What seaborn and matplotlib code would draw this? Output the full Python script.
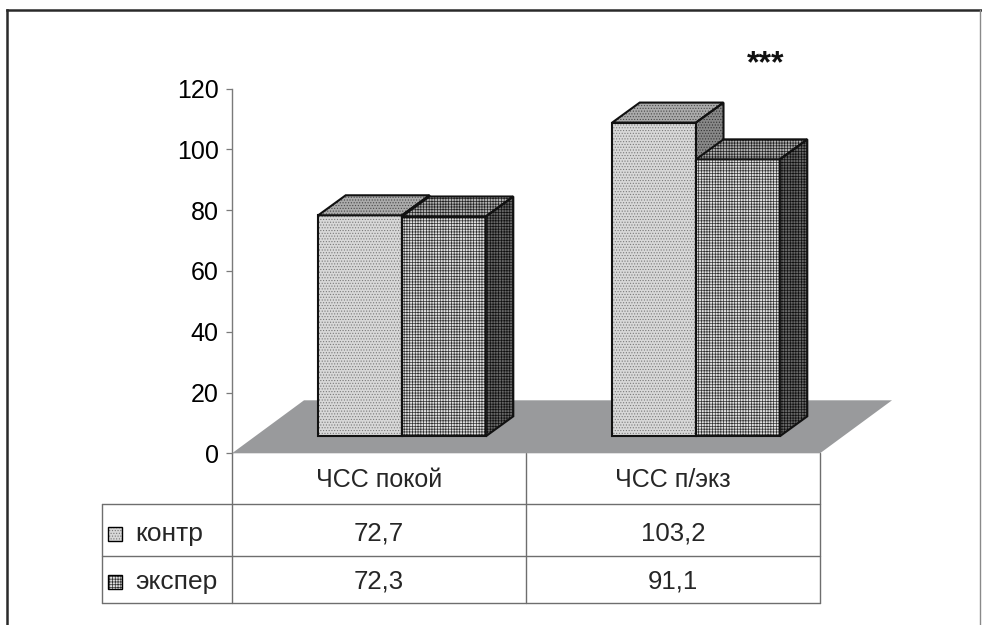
import numpy as np
import pandas as pd
import matplotlib
matplotlib.use("Agg")
import matplotlib.pyplot as plt
import seaborn as sns
from matplotlib.patches import Polygon, Rectangle
from matplotlib.transforms import IdentityTransform

# ---- data ----
categories = ["ЧСС покой", "ЧСС п/экз"]
series_names = ["контр", "экспер"]
control_values = [72.7, 103.2]
exper_values = [72.3, 91.1]
y_ticks = [0, 20, 40, 60, 80, 100, 120]
significance_mark = "***"

sns.set_theme(style="white")
plt.rcParams["font.family"] = ["Liberation Sans", "DejaVu Sans"]
plt.rcParams["hatch.linewidth"] = 0.5

W, H = 982, 625
fig = plt.figure(figsize=(W / 100, H / 100), dpi=100)
fig.patch.set_facecolor("white")


def fig_box(x0, y_top, x1, y_bot):
    """Pixel box (origin top-left) -> figure fraction rect."""
    return [x0 / W, 1 - y_bot / H, (x1 - x0) / W, (y_bot - y_top) / H]


# face styles: base colour, hatch texture, hatch colour
styles = {
    "контр": {
        "front": ("#d8d8d8", "......", "#7a7a7a"),
        "top": ("#ababab", "......", "#4a4a4a"),
        "side": ("#888888", "......", "#333333"),
    },
    "экспер": {
        "front": ("#e0e0e0", "++++++", "#303030"),
        "top": ("#b0b0b0", "++++++", "#222222"),
        "side": ("#666666", "++++++", "#111111"),
    },
}

# overlay for the frame and the data table (pixel coordinates)
axt = fig.add_axes([0, 0, 1, 1])
axt.set_xlim(0, W)
axt.set_ylim(H, 0)
axt.axis("off")
axt.set_facecolor("none")

# value-axis plane and the front plane of the columns
AX_LEFT, AX_RIGHT = 232, 820
ZERO_Y, TOP_Y = 453.3, 88.5
FRONT_DX, FRONT_DY = 23, 17
BAR_DX, BAR_DY = 27.5, 20
FLOOR_DX, FLOOR_DY = 72, 53

ax0 = fig.add_axes(fig_box(AX_LEFT, TOP_Y, AX_RIGHT, ZERO_Y))
ax1 = fig.add_axes(fig_box(AX_LEFT + FRONT_DX, TOP_Y - FRONT_DY,
                           AX_RIGHT + FRONT_DX, ZERO_Y - FRONT_DY))

for ax in (ax0, ax1):
    ax.set_facecolor("none")

ax0.set_xlim(-0.5, 1.5)
ax0.set_ylim(0, 120)
for s in ("top", "right", "bottom"):
    ax0.spines[s].set_visible(False)
ax0.spines["left"].set_color("#7a7a7a")
ax0.spines["left"].set_linewidth(1.0)
ax0.set_xticks([])
ax0.set_yticks(y_ticks)
ax0.set_yticklabels([str(t) for t in y_ticks])
ax0.tick_params(axis="y", left=True, direction="out", length=4.5, width=0.9,
                color="#7a7a7a", pad=5, labelsize=18, labelcolor="black")

# floor of the 3-D scene
f0 = ax0.transData.transform((-0.5, 0))
f1 = ax0.transData.transform((1.5, 0))
floor = [f0, f1, f1 + (FLOOR_DX, FLOOR_DY), f0 + (FLOOR_DX, FLOOR_DY)]
ax0.add_patch(Polygon(floor, closed=True, facecolor="#999a9c", edgecolor="none",
                      transform=IdentityTransform(), clip_on=False, zorder=0.5))

# ---- columns ----
records = []
for name, vals in zip(series_names, [control_values, exper_values]):
    for cat, v in zip(categories, vals):
        records.append((cat, name, v))
df = pd.DataFrame(records, columns=["cat", "series", "value"])

palette = {n: styles[n]["front"][0] for n in series_names}
sns.barplot(data=df, x="cat", y="value", hue="series", order=categories,
            hue_order=series_names, palette=palette, width=0.57, dodge=True,
            saturation=1, errorbar=None, legend=False, linewidth=0,
            edgecolor="none", ax=ax1)
ax1.set_xlim(-0.5, 1.5)
ax1.set_ylim(0, 120)
ax1.axis("off")


def add_face(ax, verts, style, z):
    base, hatch, hcolor = style
    ax.add_patch(Polygon(verts, closed=True, facecolor=base, edgecolor="none",
                         linewidth=0, transform=IdentityTransform(),
                         clip_on=False, zorder=z))
    ax.add_patch(Polygon(verts, closed=True, fill=False, hatch=hatch,
                         edgecolor=hcolor, linewidth=0,
                         transform=IdentityTransform(), clip_on=False,
                         zorder=z + 0.1))
    ax.add_patch(Polygon(verts, closed=True, fill=False, edgecolor="#111111",
                         linewidth=1.5, joinstyle="miter",
                         transform=IdentityTransform(), clip_on=False,
                         zorder=z + 0.2))


bars = sorted([p for p in ax1.patches if isinstance(p, Rectangle)],
              key=lambda p: p.get_x())
depth = np.array([BAR_DX, BAR_DY])
T = ax1.transData.transform
for i, p in enumerate(bars):
    name = series_names[i % 2]
    st = styles[name]
    x0, w, h = p.get_x(), p.get_width(), p.get_height()
    bl, br = T((x0, 0)), T((x0 + w, 0))
    tl, tr = T((x0, h)), T((x0 + w, h))
    z = 2 + i * 2
    p.set_zorder(z)
    add_face(ax1, [bl, br, tr, tl], st["front"], z)
    add_face(ax1, [tl, tr, tr + depth, tl + depth], st["top"], z + 0.5)
    add_face(ax1, [br, tr, tr + depth, br + depth], st["side"], z + 0.5)

# significance mark over the second pair
tall = bars[2]
x_mark = bars[3].get_x() + bars[3].get_width() / 2
ax1.annotate(significance_mark, xy=(x_mark, tall.get_height()),
             xytext=(BAR_DX, 50), textcoords="offset pixels",
             ha="center", va="baseline", fontsize=23, fontweight="bold",
             color="#111111", annotation_clip=False)

# ---- data table ----
col_x = [ax0.transData.transform((x, 0))[0] for x in (-0.5, 0.5, 1.5)]
LABEL_LEFT = 102
row_lines = [504, 556, 603]
line_kw = dict(color="#6e6e6e", linewidth=1.0)
for x in col_x:
    axt.plot([x, x], [ZERO_Y, row_lines[-1]], **line_kw)
axt.plot([LABEL_LEFT, LABEL_LEFT], [row_lines[0], row_lines[-1]], **line_kw)
for y in row_lines:
    axt.plot([LABEL_LEFT, col_x[-1]], [y, y], **line_kw)

centers = [(col_x[0] + col_x[1]) / 2, (col_x[1] + col_x[2]) / 2]
for cx, cat in zip(centers, categories):
    axt.text(cx, 487, cat, ha="center", va="baseline", fontsize=18)

row_base = [540, 588]
for rb, name, vals in zip(row_base, series_names, [control_values, exper_values]):
    base, hatch, hcolor = styles[name]["front"]
    axt.add_patch(Rectangle((108, rb - 13.5), 14, 14, facecolor=base,
                            edgecolor="none", linewidth=0))
    axt.add_patch(Rectangle((108, rb - 13.5), 14, 14, fill=False, hatch=hatch,
                            edgecolor=hcolor, linewidth=0))
    axt.add_patch(Rectangle((108, rb - 13.5), 14, 14, fill=False,
                            edgecolor="black", linewidth=1.0))
    axt.text(135, rb + 1, name, ha="left", va="baseline", fontsize=19)
    for cx, v in zip(centers, vals):
        axt.text(cx, rb, f"{v:.1f}".replace(".", ","), ha="center",
                 va="baseline", fontsize=18.5)

# chart frame
axt.plot([7, 7], [10, H + 5], color="#2a2a2a", linewidth=1.8,
         solid_capstyle="projecting")
axt.plot([7, 981], [10, 10], color="#2a2a2a", linewidth=1.8,
         solid_capstyle="projecting")
axt.plot([980.5, 980.5], [10, H + 5], color="#8a8a8a", linewidth=1.0)

fig.savefig("out.png", dpi=100, facecolor="white")
